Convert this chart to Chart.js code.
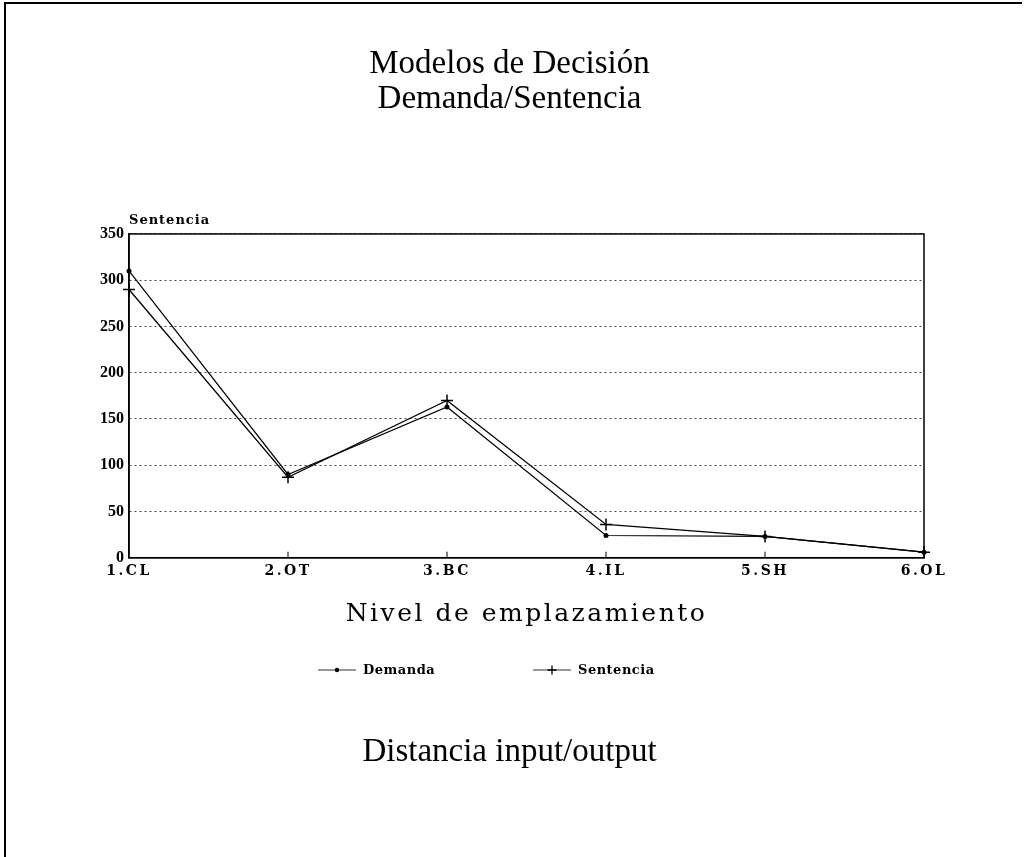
<!DOCTYPE html>
<html><head><meta charset="utf-8">
<script src="https://cdn.jsdelivr.net/npm/chart.js@4.4.1/dist/chart.umd.min.js"></script>
<style>html,body{margin:0;padding:0;background:#fff;}#wrap{position:relative;width:1025px;height:857px;}</style>
</head><body><div id="wrap"><canvas id="c" width="1025" height="857"></canvas></div>
<script>
const categories = ['1.CL', '2.OT', '3.BC', '4.IL', '5.SH', '6.OL'];
const demanda = [310, 90, 163, 24, 23, 6];
const sentencia = [290, 87, 170, 36, 23, 6];
const yTicks = [0, 50, 100, 150, 200, 250, 300, 350];
const titleLines = ['Modelos de Decisión', 'Demanda/Sentencia'];
const footerText = 'Distancia input/output';
const xTitle = 'Nivel de emplazamiento';
const yLabel = 'Sentencia';
const seriesNames = ['Demanda', 'Sentencia'];

const SERIF = '"Liberation Serif", "Times New Roman", serif';
const TYPE = '"DejaVu Serif", serif';

function drawMarker(ctx, kind, x, y, r) {
  ctx.save();
  ctx.strokeStyle = '#000'; ctx.fillStyle = '#000';
  if (kind === 'dot') {
    ctx.beginPath(); ctx.arc(x, y, 2.2, 0, Math.PI * 2); ctx.fill();
  } else {
    ctx.lineWidth = 1.3;
    ctx.beginPath(); ctx.moveTo(x - r, y); ctx.lineTo(x + r, y);
    ctx.moveTo(x, y - r); ctx.lineTo(x, y + r); ctx.stroke();
  }
  ctx.restore();
}

const decor = {
  id: 'decor',
  beforeDraw(chart) {
    const ctx = chart.ctx;
    ctx.save();
    ctx.fillStyle = '#fff'; ctx.fillRect(0, 0, chart.width, chart.height);
    ctx.strokeStyle = '#000'; ctx.lineWidth = 2;
    ctx.beginPath(); ctx.moveTo(5, chart.height); ctx.lineTo(5, 3); ctx.lineTo(1022, 3); ctx.stroke();
    ctx.restore();
    ctx.letterSpacing = '0px';
  },
  afterDatasetsDraw(chart) {
    const ctx = chart.ctx, a = chart.chartArea, xs = chart.scales.x;
    ctx.save();
    ctx.strokeStyle = '#000'; ctx.lineWidth = 1.5;
    ctx.strokeRect(a.left, a.top, a.right - a.left, a.bottom - a.top);
    ctx.lineWidth = 1;
    ctx.beginPath();
    for (let i = 1; i < categories.length - 1; i++) {
      const px = xs.getPixelForTick(i);
      ctx.moveTo(px, a.bottom); ctx.lineTo(px, a.bottom - 6);
    }
    ctx.stroke();
    ctx.restore();
    ctx.letterSpacing = '2.5px';
  },
  afterDraw(chart) {
    const ctx = chart.ctx, a = chart.chartArea;
    ctx.letterSpacing = '1px';
    ctx.save();
    ctx.fillStyle = '#000';
    ctx.font = 'bold 13px ' + TYPE;
    ctx.textAlign = 'left'; ctx.textBaseline = 'alphabetic';
    ctx.fillText(yLabel, a.left, a.top - 10);
    ctx.restore();
    ctx.letterSpacing = '0.5px';
    ctx.save();
    ctx.fillStyle = '#000';
    ctx.font = 'bold 13px ' + TYPE;
    const ly = 670;
    const items = [{x: 318, kind: 'dot'}, {x: 533, kind: 'cross'}];
    ctx.textAlign = 'left'; ctx.textBaseline = 'middle';
    items.forEach((it, i) => {
      ctx.strokeStyle = '#333'; ctx.lineWidth = 1;
      ctx.beginPath(); ctx.moveTo(it.x, ly); ctx.lineTo(it.x + 38, ly); ctx.stroke();
      drawMarker(ctx, it.kind, it.x + 19, ly, 4.5);
      ctx.fillText(seriesNames[i], it.x + 45, ly + 1);
    });
    ctx.restore();
    ctx.letterSpacing = '0px';
  }
};

new Chart(document.getElementById('c'), {
  type: 'line',
  data: {
    labels: categories,
    datasets: [
      { label: seriesNames[0], data: demanda, borderColor: '#000', backgroundColor: '#000', borderWidth: 1.2,
        pointStyle: 'circle', pointRadius: 2.5, pointBackgroundColor: '#000', pointBorderWidth: 0, tension: 0, clip: false },
      { label: seriesNames[1], data: sentencia, borderColor: '#000', backgroundColor: '#000', borderWidth: 1.3,
        pointStyle: 'cross', pointRadius: 6, pointBorderWidth: 1.5, tension: 0, clip: false }
    ]
  },
  options: {
    responsive: false, animation: false, devicePixelRatio: 1,
    layout: { padding: { left: 95, right: 101, top: 0, bottom: 0 } },
    plugins: {
      legend: { display: false },
      tooltip: { enabled: false },
      title: { display: true, text: titleLines, color: '#000',
        font: { family: SERIF, size: 33, weight: 'normal', lineHeight: 1.06 },
        padding: { top: 46.5, bottom: 117.5 } },
      subtitle: { display: true, position: 'bottom', text: footerText, color: '#000',
        font: { family: SERIF, size: 33, weight: 'normal', lineHeight: 1.06 },
        padding: { top: 105, bottom: 87.5 } }
    },
    scales: {
      x: {
        offset: false,
        grid: { display: false, drawTicks: false, z: 1 },
        border: { display: true, color: '#000', width: 1.5, z: 1 },
        ticks: { z: 1, color: '#000', padding: 5, maxRotation: 0, font: { family: TYPE, size: 14, weight: 'bold' } },
        title: { display: true, text: xTitle, color: '#000', padding: { top: 15, bottom: 0 },
          font: { family: TYPE, size: 25, weight: 'normal' } }
      },
      y: {
        min: 0, max: 350,
        afterBuildTicks: (s) => { s.ticks = yTicks.map(v => ({ value: v })); },
        grid: { color: '#444', lineWidth: 1, drawTicks: false },
        border: { display: true, color: '#000', width: 1.5, dash: [2, 3] },
        ticks: { color: '#000', padding: 5, font: { family: SERIF, size: 16, weight: 'bold' } }
      }
    }
  },
  plugins: [decor]
});
</script>
</body></html>
